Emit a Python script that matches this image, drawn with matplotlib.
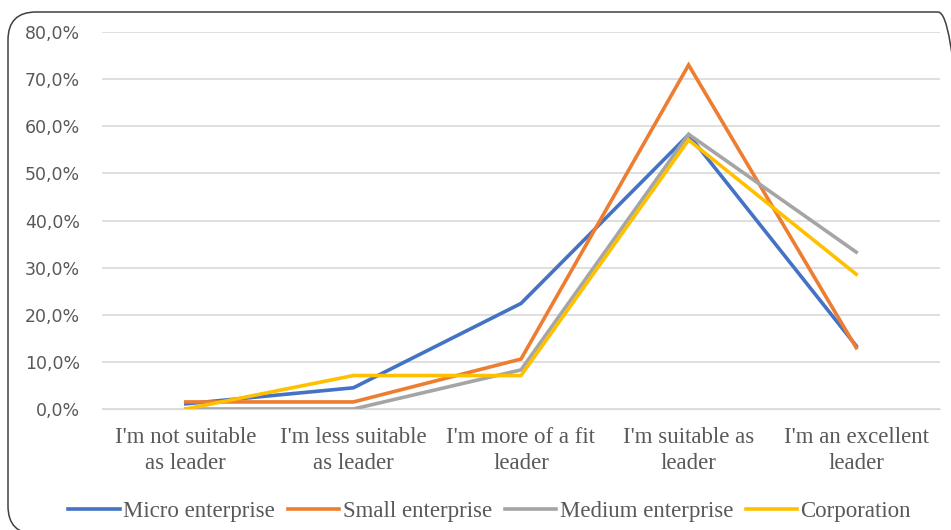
import matplotlib.pyplot as plt
from matplotlib.patches import FancyBboxPatch
from matplotlib.transforms import IdentityTransform
from matplotlib.ticker import FuncFormatter

# data
categories = ["I'm not suitable\nas leader", "I'm less suitable\nas leader",
              "I'm more of a fit\nleader", "I'm suitable as\nleader",
              "I'm an excellent\nleader"]
micro = [1.1, 4.5, 22.4, 58.2, 13.4]
small = [1.5, 1.5, 10.6, 73.0, 13.0]
medium = [0.0, 0.0, 8.3, 58.3, 33.3]
corporation = [0.0, 7.1, 7.1, 57.1, 28.6]
series_names = ["Micro enterprise", "Small enterprise", "Medium enterprise", "Corporation"]
colors = ["#4472C4", "#ED7D31", "#A5A5A5", "#FFC000"]

fig = plt.figure(figsize=(9.51, 5.30), dpi=100)
ax = fig.add_axes([102 / 951, 1 - 409 / 530, (940 - 102) / 951, (409 - 32) / 530])

# rounded frame round the chart (pixel units, partly off the picture)
frame = FancyBboxPatch((8, -4), 958, 522,
                       boxstyle="round,pad=0,rounding_size=28",
                       transform=IdentityTransform(), fill=False,
                       edgecolor="#404040", linewidth=1.1)
fig.patches.append(frame)

x = range(len(categories))
for vals, name, c in zip([micro, small, medium, corporation], series_names, colors):
    ax.plot(x, vals, color=c, lw=2.6, label=name, solid_joinstyle="miter")

ax.set_ylim(0, 80)
ax.set_yticks(range(0, 81, 10))
ax.yaxis.set_major_formatter(FuncFormatter(lambda v, p: f"{v:.1f}%".replace(".", ",")))
ax.set_xlim(-0.5, 4.5)
ax.set_xticks(list(x))
ax.set_xticklabels(categories, family="Liberation Serif", fontsize=16.5,
                   color="#595959", linespacing=1.3)
for lab in ax.get_yticklabels():
    lab.set_family("DejaVu Sans")
    lab.set_fontsize(12.5)
    lab.set_color("#595959")

ax.grid(axis="y", color="#D9D9D9", lw=1.2)
ax.set_axisbelow(True)
for s in ["top", "right", "left"]:
    ax.spines[s].set_visible(False)
ax.spines["bottom"].set_color("#D9D9D9")
ax.tick_params(axis="both", length=0)
ax.tick_params(axis="y", pad=16)
ax.tick_params(axis="x", pad=13)

fig.legend(loc="center", bbox_to_anchor=(0.515, 1 - 511 / 530), ncol=4, frameon=False,
           prop={"family": "Liberation Serif", "size": 16.5}, handlelength=2.25,
           handletextpad=0.15, columnspacing=0.55, labelcolor="#595959")

fig.savefig("out.png", dpi=100)
